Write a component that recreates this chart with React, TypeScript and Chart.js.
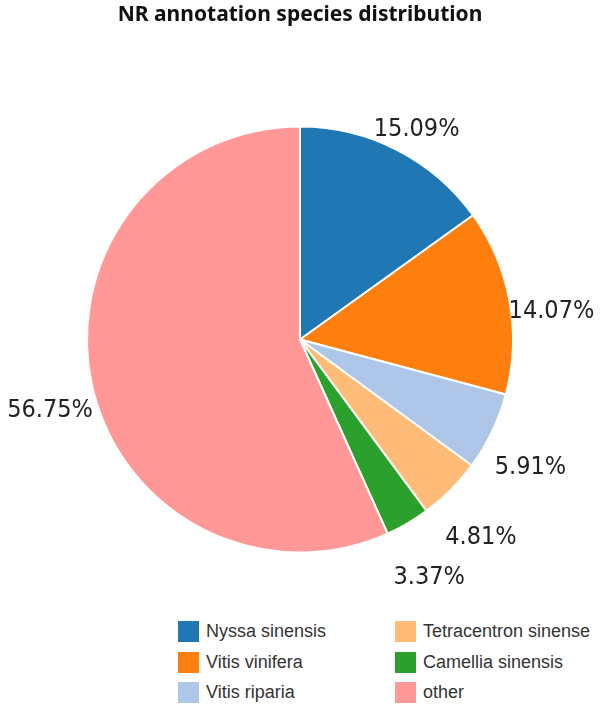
import { useEffect, useRef } from "react";
import { ArcElement, Chart, PieController, type Plugin } from "chart.js";

Chart.register(PieController, ArcElement);

const title = "NR annotation species distribution";
const species = [
  "Nyssa sinensis",
  "Vitis vinifera",
  "Vitis riparia",
  "Tetracentron sinense",
  "Camellia sinensis",
  "other"
];
const shares = [15.09, 14.07, 5.91, 4.81, 3.37, 56.75];
const colors = ["#1f77b4", "#ff7f0e", "#aec7e8", "#ffbb78", "#2ca02c", "#ff9896"];

const titlePlugin: Plugin<"pie"> = {
  id: "topTitle",
  afterDraw(chart) {
    const ctx = chart.ctx;
    ctx.save();
    ctx.font = "bold 21px 'Noto Sans', sans-serif";
    ctx.fillStyle = "#111";
    ctx.textAlign = "center";
    ctx.textBaseline = "alphabetic";
    ctx.fillText(title, 300, 21);
    ctx.restore();
  }
};

const percentLabels: Plugin<"pie"> = {
  id: "percentLabels",
  afterDatasetsDraw(chart) {
    const ctx = chart.ctx;
    const meta = chart.getDatasetMeta(0);
    ctx.save();
    ctx.font = "condensed 25px 'DejaVu Sans', sans-serif";
    // tahoma-like look: condensed DejaVu
    (ctx as any).fontStretch = "condensed";
    ctx.fillStyle = "#222";
    ctx.textAlign = "center";
    ctx.textBaseline = "alphabetic";
    meta.data.forEach((el, i) => {
      const arc = el as unknown as ArcElement;
      const { x, y, startAngle, endAngle, outerRadius } = arc.getProps(
        ["x", "y", "startAngle", "endAngle", "outerRadius"],
        true
      );
      const mid = (startAngle + endAngle) / 2;
      const r = outerRadius * 1.2;
      const px = x + Math.cos(mid) * r;
      const py = y + Math.sin(mid) * r;
      ctx.fillText(`${shares[i].toFixed(2)}%`, px, py + 24);
    });
    ctx.restore();
  }
};

function Legend() {
  // column-major order: first three on the left, rest on the right
  const rows = 3;
  return (
    <div
      style={{
        position: "absolute",
        left: 178,
        top: 621,
        display: "grid",
        gridTemplateColumns: "217px auto",
        gridTemplateRows: `repeat(${rows}, 30.5px)`,
        gridAutoFlow: "column",
        font: "18px 'Liberation Sans', Arial, sans-serif",
        color: "#333"
      }}
    >
      {species.map((name, i) => (
        <div key={name} style={{ display: "flex", alignItems: "flex-start", height: 30.5 }}>
          <span
            style={{
              width: 21,
              height: 21,
              boxSizing: "border-box",
              background: colors[i],
              border: `1px solid ${colors[i]}99`,
              marginRight: 7,
              flex: "none"
            }}
          />
          <span style={{ lineHeight: "21px", whiteSpace: "nowrap" }}>{name}</span>
        </div>
      ))}
    </div>
  );
}

export default function App() {
  const canvasRef = useRef<HTMLCanvasElement | null>(null);

  useEffect(() => {
    const canvas = canvasRef.current;
    if (!canvas) return;

    const chart = new Chart(canvas, {
      type: "pie",
      data: {
        labels: species,
        datasets: [
          {
            data: shares,
            backgroundColor: colors,
            borderColor: "#fff",
            borderWidth: 2
          }
        ]
      },
      options: {
        animation: false,
        responsive: true,
        maintainAspectRatio: false,
        layout: { padding: { left: 86, right: 89, top: 125, bottom: 46 } },
        plugins: {
          legend: { display: false },
          tooltip: { enabled: false }
        }
      },
      plugins: [titlePlugin, percentLabels]
    });

    return () => chart.destroy();
  }, []);

  return (
    <div style={{ position: "absolute", left: 0, top: 0, width: 603, height: 710, background: "#fff" }}>
      <div style={{ position: "absolute", left: 0, top: 0, width: 603, height: 600 }}>
        <canvas ref={canvasRef} />
      </div>
      <Legend />
    </div>
  );
}
